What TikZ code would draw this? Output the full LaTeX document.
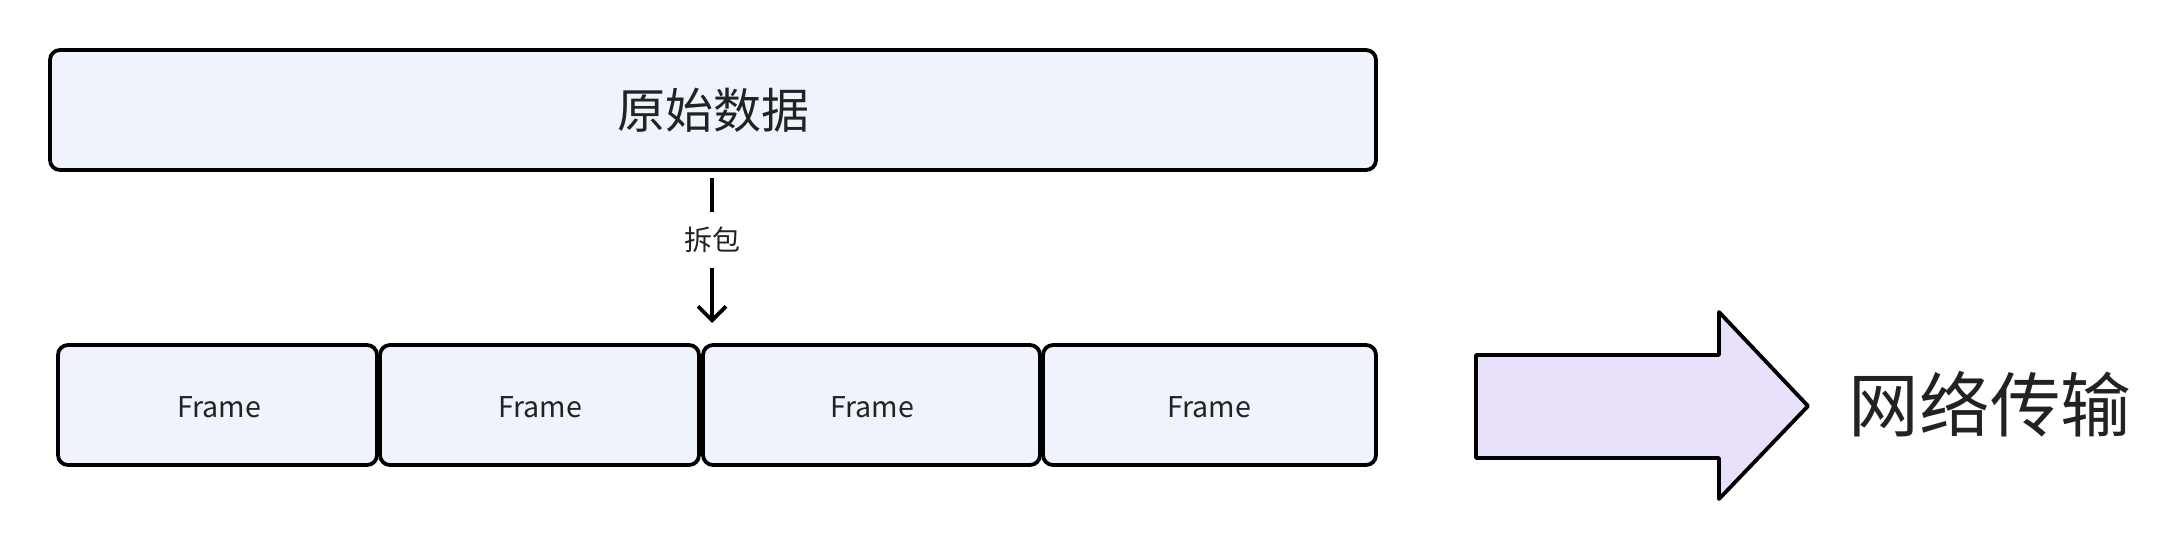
\documentclass[tikz,border=0pt]{standalone}
\usepackage{fontspec}
\setmainfont{Noto Sans CJK SC}
\usetikzlibrary{arrows.meta}
\definecolor{boxfill}{HTML}{EFF3FC}
\definecolor{arrowfill}{HTML}{E9E1FC}
\definecolor{txt}{HTML}{222222}
\tikzset{
  px/.style={x=0.5pt,y=-0.5pt},
  databox/.style={draw=black,line width=1.9pt,fill=boxfill,rounded corners=5pt},
  lbl/.style={text=txt,inner sep=0pt}
}
\begin{document}
\begin{tikzpicture}[px]
\useasboundingbox (0,0) rectangle (2184,552);
% top box
\draw[databox] (50,50) rectangle (1376,170);
\coordinate (topS) at (712,170);
\node[lbl,font=\fontsize{24pt}{28pt}\selectfont] (raw) at (713,110) {原始数据};
% frames
\draw[databox] (58,345) rectangle (377,465);
\draw[databox] (380,345) rectangle (699,465);
\draw[databox] (703,345) rectangle (1040,465);
\draw[databox] (1043,345) rectangle (1376,465);
\node[lbl,font=\fontsize{14.3pt}{16pt}\selectfont] (f1) at (219,407) {Frame};
\node[lbl,font=\fontsize{14.3pt}{16pt}\selectfont] (f2) at (540,407) {Frame};
\node[lbl,font=\fontsize{14.3pt}{16pt}\selectfont] (f3) at (872,407) {Frame};
\node[lbl,font=\fontsize{14.3pt}{16pt}\selectfont] (f4) at (1209,407) {Frame};
\coordinate (frS) at (712,345);
% split arrow
\draw[line width=1.9pt,-{Straight Barb[length=7pt,width=14pt,line width=1.9pt]},shorten <=4pt,shorten >=11pt] (topS) -- (frS)
  node[pos=0.4,fill=white,text=txt,inner xsep=2pt,inner ysep=7.5pt,font=\fontsize{14pt}{16pt}\selectfont] (split) {拆包};
% big arrow
\draw[line width=1.9pt,fill=arrowfill,line join=round] (1476,355) -- (1719,355) -- (1719,312) -- (1808,406) -- (1719,499) -- (1719,458) -- (1476,458) -- cycle;
\node[lbl,font=\fontsize{35.3pt}{40pt}\selectfont] (net) at (1990,404) {网络传输};
\end{tikzpicture}
\end{document}
